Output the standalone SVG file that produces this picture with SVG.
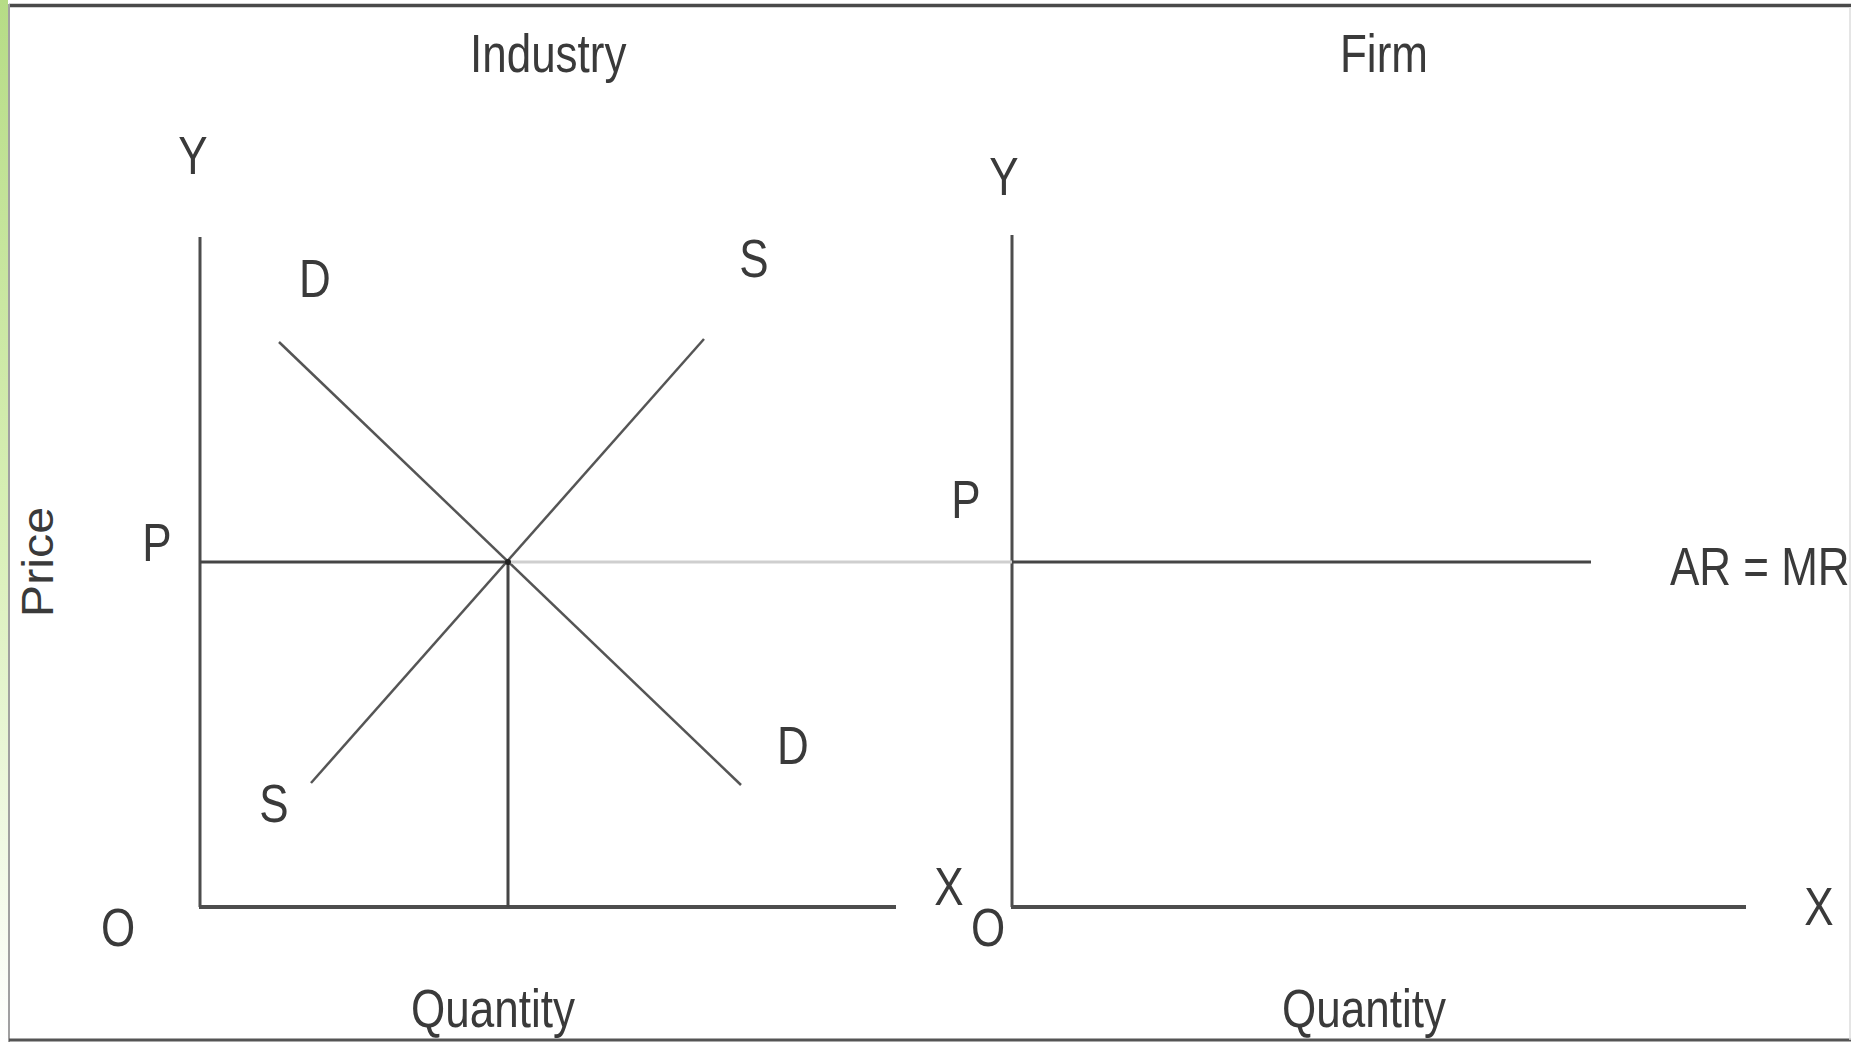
<svg xmlns="http://www.w3.org/2000/svg" width="1851" height="1042" viewBox="0 0 1851 1042">
  <style>
    .t { font-family: "Liberation Sans", Arial, sans-serif; font-size: 44px; fill: #3a3a3a; }
    .m { text-anchor: middle; }
    .axis { stroke: #4d4d4d; stroke-width: 3; fill: none; }
    .xaxis { stroke: #4d4d4d; stroke-width: 4; fill: none; }
    .curve { stroke: #555; stroke-width: 2.5; fill: none; }
    .guide { stroke: #454545; stroke-width: 3; fill: none; }
    .faint { stroke: #cfcfcf; stroke-width: 3; fill: none; }
  </style>
  <defs>
    <linearGradient id="green" x1="0" y1="0" x2="0" y2="1">
      <stop offset="0" stop-color="#b6dc86"/>
      <stop offset="0.5" stop-color="#d8efb6"/>
      <stop offset="1" stop-color="#ffffff"/>
    </linearGradient>
  </defs>
  <rect x="0" y="0" width="1851" height="1042" fill="#ffffff"/>
  <g id="frame">
    <rect x="0" y="0" width="8" height="1042" fill="url(#green)"/>
    <line x1="9" y1="5.5" x2="1851" y2="5.5" stroke="#4a4a4a" stroke-width="3.5"/>
    <line x1="9" y1="4" x2="9" y2="1042" stroke="#a0a0a0" stroke-width="2"/>
    <line x1="9" y1="1040" x2="1851" y2="1040" stroke="#555" stroke-width="3"/>
    <line x1="1850" y1="7" x2="1850" y2="1040" stroke="#dddddd" stroke-width="1.5"/>
  </g>
  <g id="connectors">
    <line class="axis" x1="200" y1="237" x2="200" y2="907"/>
    <line class="xaxis" x1="199" y1="907" x2="896" y2="907"/>
    <line class="axis" x1="1012" y1="235" x2="1012" y2="907"/>
    <line class="xaxis" x1="1011" y1="907" x2="1746" y2="907"/>
    <line class="curve" x1="279" y1="342" x2="741" y2="785"/>
    <line class="curve" x1="311" y1="783" x2="704" y2="339"/>
    <line class="guide" x1="200" y1="562" x2="508" y2="562"/>
    <line class="guide" x1="508" y1="562" x2="508" y2="907"/>
    <line class="faint" x1="508" y1="562" x2="1012" y2="562"/>
    <line class="guide" x1="1012" y1="562" x2="1591" y2="562"/>
    <circle cx="508" cy="562" r="3" fill="#222"/>
  </g>
  <g id="industry-title"><text class="t" transform="translate(470,72) scale(1,1.2)">Industry</text></g>
  <g id="firm-title"><text class="t" transform="translate(1340,72) scale(1,1.2)">Firm</text></g>
  <g id="industry-y"><text class="t m" transform="translate(193,174) scale(1,1.2)">Y</text></g>
  <g id="firm-y"><text class="t m" transform="translate(1004,195) scale(1,1.2)">Y</text></g>
  <g id="demand-top"><text class="t m" transform="translate(315,297) scale(1,1.2)">D</text></g>
  <g id="supply-top"><text class="t m" transform="translate(754,277) scale(1,1.2)">S</text></g>
  <g id="demand-bottom"><text class="t m" transform="translate(793,764) scale(1,1.2)">D</text></g>
  <g id="supply-bottom"><text class="t m" transform="translate(274,822) scale(1,1.2)">S</text></g>
  <g id="price-industry"><text class="t m" transform="translate(157,561) scale(1,1.2)">P</text></g>
  <g id="price-firm"><text class="t m" transform="translate(966,518) scale(1,1.2)">P</text></g>
  <g id="price-label"><text class="t m" transform="translate(53,562) scale(1,1.1) rotate(-90)">Price</text></g>
  <g id="origin-industry"><text class="t m" transform="translate(118,946) scale(1,1.2)">O</text></g>
  <g id="origin-firm"><text class="t m" transform="translate(988,946) scale(1,1.2)">O</text></g>
  <g id="x-industry"><text class="t m" transform="translate(949,905) scale(1,1.2)">X</text></g>
  <g id="x-firm"><text class="t m" transform="translate(1819,925) scale(1,1.2)">X</text></g>
  <g id="ar-mr"><text class="t" transform="translate(1670,585) scale(1,1.2)">AR = MR</text></g>
  <g id="quantity-industry"><text class="t m" transform="translate(493,1027) scale(1,1.2)">Quantity</text></g>
  <g id="quantity-firm"><text class="t m" transform="translate(1364,1027) scale(1,1.2)">Quantity</text></g>
</svg>
